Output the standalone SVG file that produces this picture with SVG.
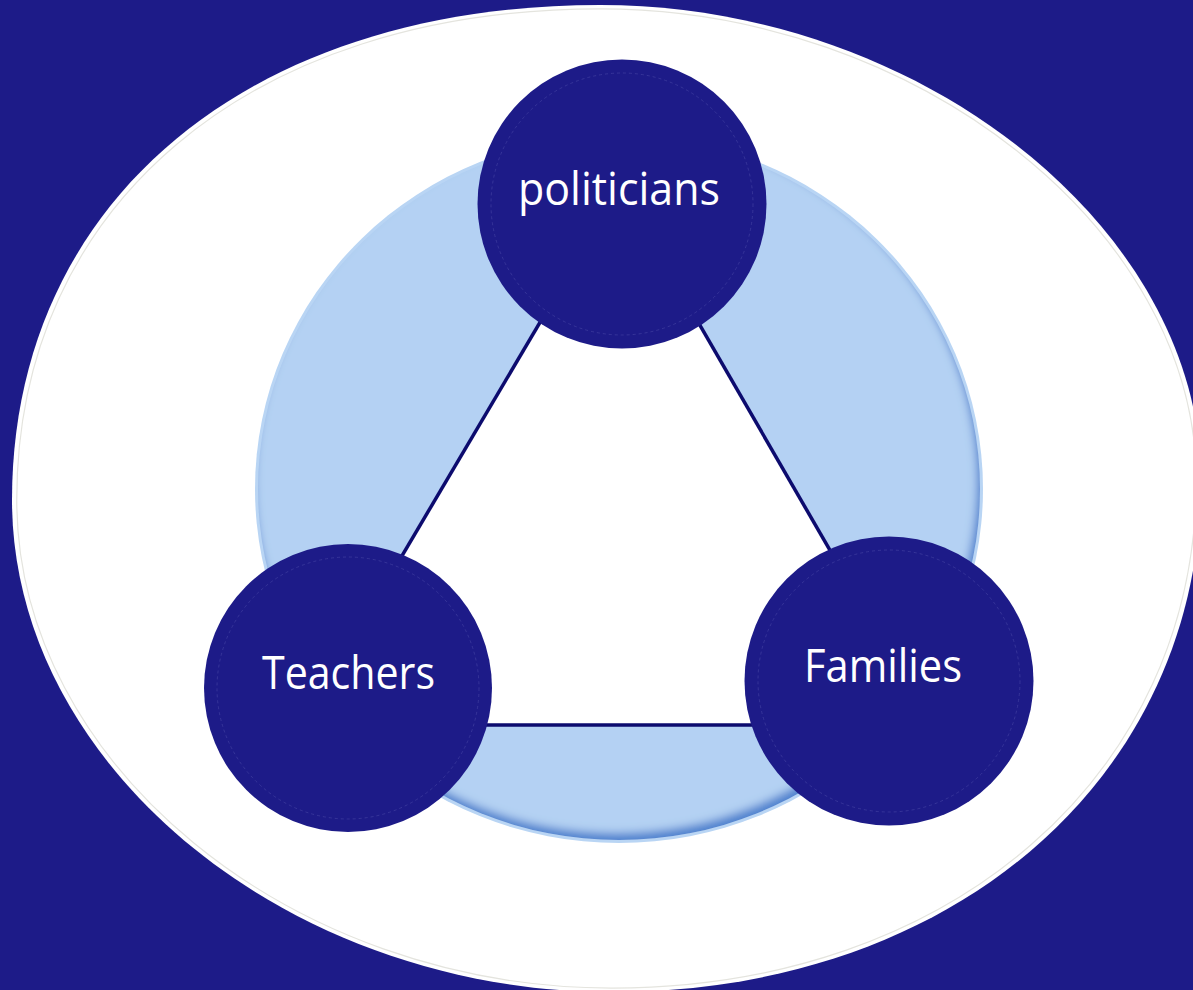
<svg xmlns="http://www.w3.org/2000/svg" width="1193" height="990" viewBox="0 0 1193 990">
  <defs>
    <style>
      .node { fill: #1d1b88; }
      .ring { fill: none; stroke: #403ea0; stroke-width: 1; stroke-dasharray: 3 3; opacity: 0.7; }
      .label { font-family: "Open Sans", "Noto Sans", sans-serif; font-size: 45px; fill: #ffffff; text-anchor: middle; }
      .edge { stroke: #0c0b6e; stroke-width: 3.5; fill: none; stroke-linecap: butt; }
    </style>
    <filter id="innerShadow" x="-5%" y="-5%" width="110%" height="110%">
      <feComponentTransfer in="SourceAlpha" result="inv">
        <feFuncA type="table" tableValues="1 0"/>
      </feComponentTransfer>
      <feGaussianBlur in="inv" stdDeviation="4" result="blur"/>
      <feOffset in="blur" dx="-3" dy="-7" result="off"/>
      <feFlood flood-color="#4f83cf" result="col"/>
      <feComposite in="col" in2="off" operator="in" result="sh"/>
      <feComposite in="sh" in2="SourceAlpha" operator="in" result="shadow"/>
      <feMerge>
        <feMergeNode in="SourceGraphic"/>
        <feMergeNode in="shadow"/>
      </feMerge>
    </filter>
  </defs>

  <g id="background">
    <rect x="0" y="0" width="1193" height="990" fill="#1d1b88"/>
    <path id="outer-ellipse" d="M 12,500 C 12,203 247,5 600,5 C 919,5 1201,228 1201,480 C 1201,777 954,992 612,992 C 288,992 12,766 12,500 Z" fill="#ffffff"/>
    <path d="M 12,500 C 12,203 247,5 600,5 C 919,5 1201,228 1201,480 C 1201,777 954,992 612,992 C 288,992 12,766 12,500 Z" fill="none" stroke="#e4e4de" stroke-width="1.2" transform="translate(606 496) scale(0.992) translate(-606 -496)"/>
    <ellipse cx="619" cy="489" rx="364" ry="354" fill="#b9d5f4"/>
    <ellipse cx="619" cy="489" rx="361" ry="351" fill="#b4d1f3" filter="url(#innerShadow)"/>
    <polygon points="620,187 302,725 931,725" fill="#ffffff"/>
  </g>

  <g id="connectors">
    <line class="edge" x1="620" y1="187" x2="302" y2="725"/>
    <line class="edge" x1="620" y1="187" x2="931" y2="725"/>
    <line class="edge" x1="302" y1="725" x2="931" y2="725" stroke-width="4.5"/>
  </g>

  <g id="node-politicians">
    <circle class="node" cx="622" cy="204" r="144.5"/>
    <circle class="ring" cx="622" cy="204" r="131"/>
    <text class="label" x="619" y="205" textLength="202" lengthAdjust="spacingAndGlyphs">politicians</text>
  </g>

  <g id="node-teachers">
    <circle class="node" cx="348" cy="688" r="144"/>
    <circle class="ring" cx="348" cy="688" r="131"/>
    <text class="label" x="348.5" y="689" textLength="173" lengthAdjust="spacingAndGlyphs">Teachers</text>
  </g>

  <g id="node-families">
    <circle class="node" cx="889" cy="681" r="144.5"/>
    <circle class="ring" cx="889" cy="681" r="131"/>
    <text class="label" x="883" y="682" textLength="158" lengthAdjust="spacingAndGlyphs">Families</text>
  </g>
</svg>
